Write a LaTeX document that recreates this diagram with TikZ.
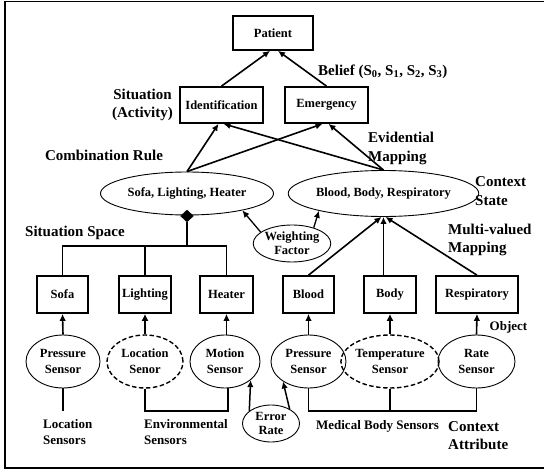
\documentclass[tikz,border=0pt]{standalone}
\usepackage{fontspec}
\setmainfont{Liberation Serif}
\usetikzlibrary{shapes.geometric,arrows.meta,calc}
\newcommand\nodefnt{\bfseries\fontsize{12.5}{16}\selectfont}
\newcommand\labfnt{\bfseries\fontsize{15}{18.5}\selectfont}
\newcommand\midfnt{\bfseries\fontsize{13}{16}\selectfont}
\begin{document}
\begin{tikzpicture}[x=1pt,y=-1pt,
  box/.style={draw,line width=1.7pt,minimum height=37pt,inner sep=0pt,font=\nodefnt},
  ell/.style={draw,ellipse,line width=0.9pt,inner sep=0pt,align=center,font=\nodefnt},
  dell/.style={ell,dashed,line width=1.4pt,dash pattern=on 4.5pt off 2.5pt},
  lab/.style={font=\labfnt,align=left,inner sep=0pt},
  mlab/.style={font=\midfnt,align=left,inner sep=0pt},
  arr/.style={line width=1.6pt,-{Latex[length=7pt,width=6.5pt]}},
  tarr/.style={line width=2.6pt,-{Latex[length=7pt,width=7pt]}},
  ln/.style={line width=1.4pt}]
\useasboundingbox (0,0) rectangle (544,470);
\clip (0,0) rectangle (544,470);
\draw[line width=1.8pt] (5,1.5) -- (600,1.5) (5,1.5) -- (5,468) -- (600,468);

% top
\node[box,minimum width=80pt,minimum height=34pt] (patient) at (273,33) {Patient};
\node[box,minimum width=83pt,minimum height=36pt] (ident) at (221.5,105) {Identification};
\node[box,minimum width=83pt,minimum height=36pt] (emerg) at (326.5,105) {Emergency};

% context state ellipses
\node[ell,minimum width=173pt,minimum height=43pt] (ellL) at (187,193.5) {Sofa, Lighting, Heater};
\node[ell,minimum width=173pt,minimum height=46pt] (ellR) at (383.5,193.5) {Blood, Body, Respiratory};
\node[ell,minimum width=70pt,minimum height=37pt] (weight) at (292,243.5) {Weighting\\[-2pt]Factor};

% object boxes
\node[box,minimum width=51pt] (sofa) at (62.5,294.5) {Sofa};
\node[box,minimum width=52pt] (light) at (145,294.5) {Lighting};
\node[box,minimum width=53pt] (heater) at (226.5,294.5) {Heater};
\node[box,minimum width=51pt] (blood) at (308.5,294.5) {Blood};
\node[box,minimum width=52pt] (body) at (390,294.5) {Body};
\node[box,minimum width=82pt] (resp) at (477,294.5) {Respiratory};

% sensors
\node[ell,minimum width=74pt,minimum height=53pt] (pL) at (63,361.5) {Pressure\\Sensor};
\node[dell,minimum width=76pt,minimum height=53pt] (loc) at (145,361.5) {Location\\Senor};
\node[ell,minimum width=70pt,minimum height=53pt] (motion) at (225,361.5) {Motion\\Sensor};
\node[ell,minimum width=75pt,minimum height=53pt] (pR) at (308.5,361.5) {Pressure\\Sensor};
\node[dell,minimum width=76pt,minimum height=53pt] (temp) at (390,361.5) {Temperature\\Sensor};
\node[ell,minimum width=77pt,minimum height=53pt] (rate) at (476.5,361.5) {Rate\\Sensor};
\node[ell,minimum width=57pt,minimum height=37pt] (err) at (271,423.5) {Error\\[-2pt]Rate};

% arrows to patient
\draw[arr] (ident.north) -- ($(patient.south)+(-3,0)$);
\draw[arr] (emerg.north) -- ($(patient.south)+(5,0)$);
% ellipses to situations
\draw[arr] (ellL.north) -- ($(ident.south)+(-3,0)$);
\draw[arr] (ellR.north) -- ($(ident.south)+(2,0)$);
\draw[arr] (ellL.north) -- ($(emerg.south)+(-4,0)$);
\draw[arr] (ellR.north) -- ($(emerg.south)+(2,0)$);
% weighting factor
\draw[arr,line width=1.3pt] (weight.160) -- (ellL.-17);
\draw[arr,line width=1.3pt] (weight.36) -- (ellR.-165);

% diamond aggregation
\node[diamond,fill=black,draw=black,inner sep=0pt,minimum width=13pt,minimum height=12pt] (dia) at (187,216) {};
\coordinate (bus) at (145,246);
\draw[ln] (dia.south) -- (dia.south |- bus);
\draw[ln] (sofa.north) |- (bus) -| (heater.north);
\draw[ln] (light.north) -- (bus);

% objects to right ellipse
\draw[arr] (blood.north) -- (ellR.-95);
\draw[arr] (body.north -| ellR.south) -- (ellR.south);
\draw[arr] (resp.north) -- (ellR.-85);

% sensors to objects
\draw[arr] (pL.north) -- (sofa.south);
\draw[tarr] (loc.north) -- (light.south);
\draw[arr] (motion.north -| heater.south) -- (heater.south);
\draw[arr] (pR.north) -- (blood.south);
\draw[tarr] (temp.north) -- (body.south);
\draw[arr] (rate.north) -- (resp.south);

% error rate
\draw[arr,line width=1.5pt] (err.150) -- (motion.-36);
\draw[arr,line width=1.5pt] (err.38) -- (pR.-142);

% sensor groupings
\coordinate (locEnd) at (63,411);
\coordinate (envBus) at (145,411);
\coordinate (medBus) at (390,411);
\draw[ln] (pL.south) -- (locEnd);
\draw[ln] (loc.south) -- (envBus) -| ($(motion.south)+(3,0)$);
\draw[ln] (pR.south) |- (medBus) -| (rate.south);
\draw[ln] (temp.south) -- (medBus);

% labels
\node[lab,anchor=west] (belief) at (318,72) {Belief (S\textsubscript{0}, S\textsubscript{1}, S\textsubscript{2}, S\textsubscript{3})};
\node[lab,align=center] (sit) at (142.5,105) {Situation\\(Activity)};
\node[lab,anchor=west] (evid) at (368,148.5) {Evidential\\Mapping};
\node[lab] (comb) at (104,155) {Combination Rule};
\node[lab,anchor=west] (cstate) at (475,191) {Context\\State};
\node[lab] (sspace) at (75,233) {Situation Space};
\node[lab,anchor=west] (multi) at (448,240) {Multi-valued\\Mapping};
\node[mlab] (obj) at (508.5,327) {Object};
\node[mlab,anchor=west] (locs) at (43,432) {Location\\Sensors};
\node[mlab,anchor=west] (envs) at (144,432) {Environmental\\Sensors};
\node[mlab] (meds) at (377.5,426) {Medical Body Sensors};
\node[lab,anchor=west] (cattr) at (448,435.5) {Context\\Attribute};
\end{tikzpicture}
\end{document}
